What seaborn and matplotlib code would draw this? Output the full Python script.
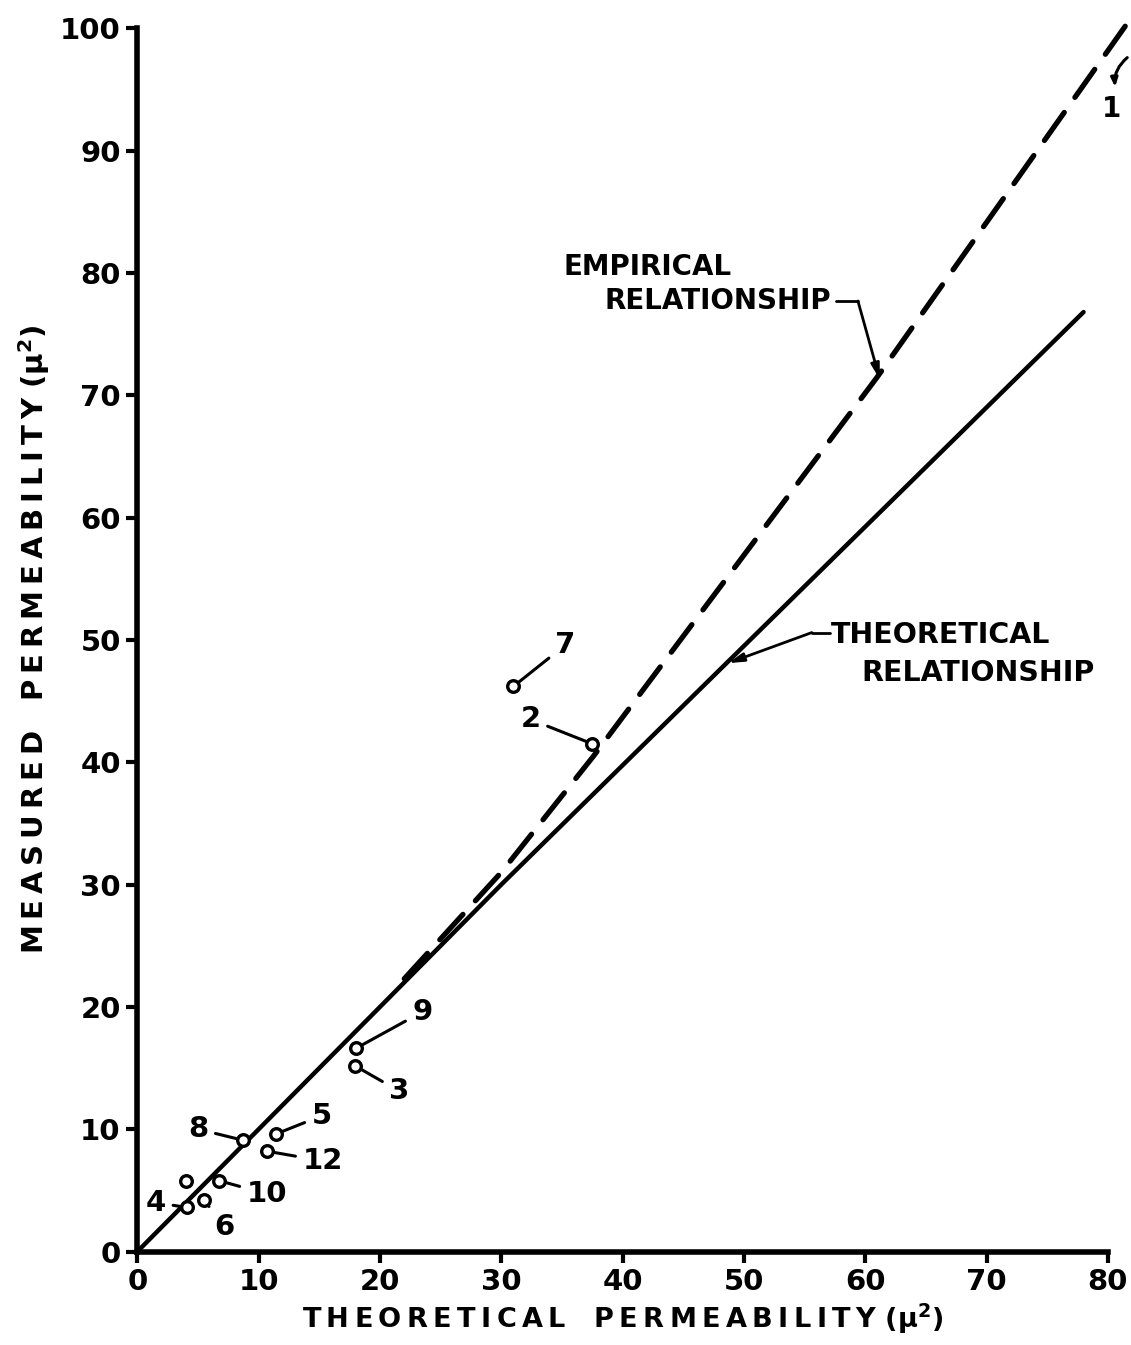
import numpy as np
import pandas as pd
import matplotlib
matplotlib.use("Agg")
import matplotlib.pyplot as plt
import seaborn as sns

# ---- data ----
sample_ids = ["7", "2", "9", "3", "5", "8", "12", "10", "", "4", "6"]
theoretical_k = [31.0, 37.5, 18.0, 17.9, 11.4, 8.7, 10.7, 6.7, 4.0, 4.1, 5.5]
measured_k = [46.2, 41.5, 16.6, 15.2, 9.6, 9.1, 8.2, 5.8, 5.8, 3.6, 4.2]
label_x = [35.3, 32.4, 23.5, 21.6, 15.2, 5.0, 15.3, 10.7, None, 1.5, 7.2]
label_y = [49.6, 43.5, 19.6, 13.1, 11.1, 10.0, 7.4, 4.7, None, 4.0, 2.0]

theory_x = [0, 30, 78]
theory_y = [0, 30, 76.8]
empirical_x = [22, 30, 37.6, 61, 81.6]
empirical_y = [22.3, 31, 40.5, 71.5, 100.4]

x_ticks = [0, 10, 20, 30, 40, 50, 60, 70, 80]
y_ticks = [0, 10, 20, 30, 40, 50, 60, 70, 80, 90, 100]

sns.set_style("white")
plt.rcParams["font.family"] = ["DejaVu Sans"]
plt.rcParams["font.weight"] = "bold"
plt.rcParams["mathtext.default"] = "bf"
for k in ["text.color", "axes.labelcolor", "xtick.color", "ytick.color"]:
    plt.rcParams[k] = "black"

TS = "\u2009"


def spaced(s):
    return TS.join(s)


fig = plt.figure(figsize=(11.31, 13.45), dpi=100)
ax = fig.add_axes([0.1215, 0.0695, 0.858, 0.9095])

df_t = pd.DataFrame({"x": theory_x, "y": theory_y})
df_e = pd.DataFrame({"x": empirical_x, "y": empirical_y})
sns.lineplot(data=df_t, x="x", y="y", ax=ax, color="black", lw=3.2,
             sort=False, estimator=None)
sns.lineplot(data=df_e, x="x", y="y", ax=ax, color="black", lw=3.8,
             sort=False, estimator=None, dashes=False)
ax.lines[-1].set_dashes([6.5, 3.5])
ax.lines[-1].set_dash_capstyle("round")
ax.lines[-1].set_clip_on(False)

df_p = pd.DataFrame({"x": theoretical_k, "y": measured_k})
sns.scatterplot(data=df_p, x="x", y="y", ax=ax, s=70, facecolor="white",
                edgecolor="black", linewidth=2.4, zorder=5)

for sid, px, py, lx, ly in zip(sample_ids, theoretical_k, measured_k, label_x, label_y):
    if not sid:
        continue
    ax.annotate(sid, xy=(px, py), xytext=(lx, ly), fontsize=21, fontweight="heavy",
                ha="center", va="center",
                arrowprops=dict(arrowstyle="-", lw=2.2, color="black",
                                shrinkA=3, shrinkB=5))

# relationship labels
ax.text(35.1, 80.5, "EMPIRICAL", fontsize=20, fontweight="heavy", ha="left", va="center")
ax.text(38.5, 77.7, "RELATIONSHIP", fontsize=20, fontweight="heavy", ha="left", va="center")
ax.plot([57.6, 59.4], [77.7, 77.7], color="black", lw=2)
ax.annotate("", xy=(61.2, 71.3), xytext=(59.4, 77.7),
            arrowprops=dict(arrowstyle="-|>,head_length=0.9,head_width=0.25", lw=2,
                            color="black", shrinkA=0, shrinkB=0))

ax.text(57.2, 50.4, "THEORETICAL", fontsize=20.5, fontweight="heavy", ha="left", va="center")
ax.text(59.7, 47.3, "RELATIONSHIP", fontsize=20.5, fontweight="heavy", ha="left", va="center")
ax.plot([55.6, 57.1], [50.6, 50.6], color="black", lw=2)
ax.annotate("", xy=(48.7, 48.1), xytext=(55.6, 50.6),
            arrowprops=dict(arrowstyle="-|>,head_length=0.9,head_width=0.25", lw=2,
                            color="black", shrinkA=0, shrinkB=0))

# point 1 (off chart)
ax.text(80.3, 93.4, "1", fontsize=20, fontweight="heavy", ha="center", va="center",
        clip_on=False)
ax.annotate("", xy=(80.6, 95.2), xytext=(81.6, 97.6), annotation_clip=False,
            arrowprops=dict(arrowstyle="-|>,head_length=0.5,head_width=0.2", lw=2.2,
                            color="black", shrinkA=0, shrinkB=0,
                            connectionstyle="arc3,rad=0.25"))

ax.set_xlim(0, 80)
ax.set_ylim(0, 100)
ax.set_xticks(x_ticks)
ax.set_yticks(y_ticks)
ax.set_xticklabels([str(t) for t in x_ticks], fontsize=21, fontweight="heavy")
ax.set_yticklabels([str(t) for t in y_ticks], fontsize=21, fontweight="heavy")
ax.tick_params(axis="both", direction="out", length=8, width=3, color="black",
               bottom=True, left=True, pad=4)
for side in ["top", "right"]:
    ax.spines[side].set_visible(False)
for side in ["left", "bottom"]:
    ax.spines[side].set_linewidth(4)
    ax.spines[side].set_color("black")

ax.set_xlabel(spaced("THEORETICAL") + "   " + spaced("PERMEABILITY") + " (μ$^{2}$)",
              fontsize=19.5, fontweight="heavy", labelpad=4)
ax.set_ylabel(spaced("MEASURED") + "   " + spaced("PERMEABILITY") + " (μ$^{2}$)",
              fontsize=21, fontweight="heavy", labelpad=10)
ax.yaxis.set_label_coords(-0.088, 0.5)

fig.savefig("out.png", dpi=100)
